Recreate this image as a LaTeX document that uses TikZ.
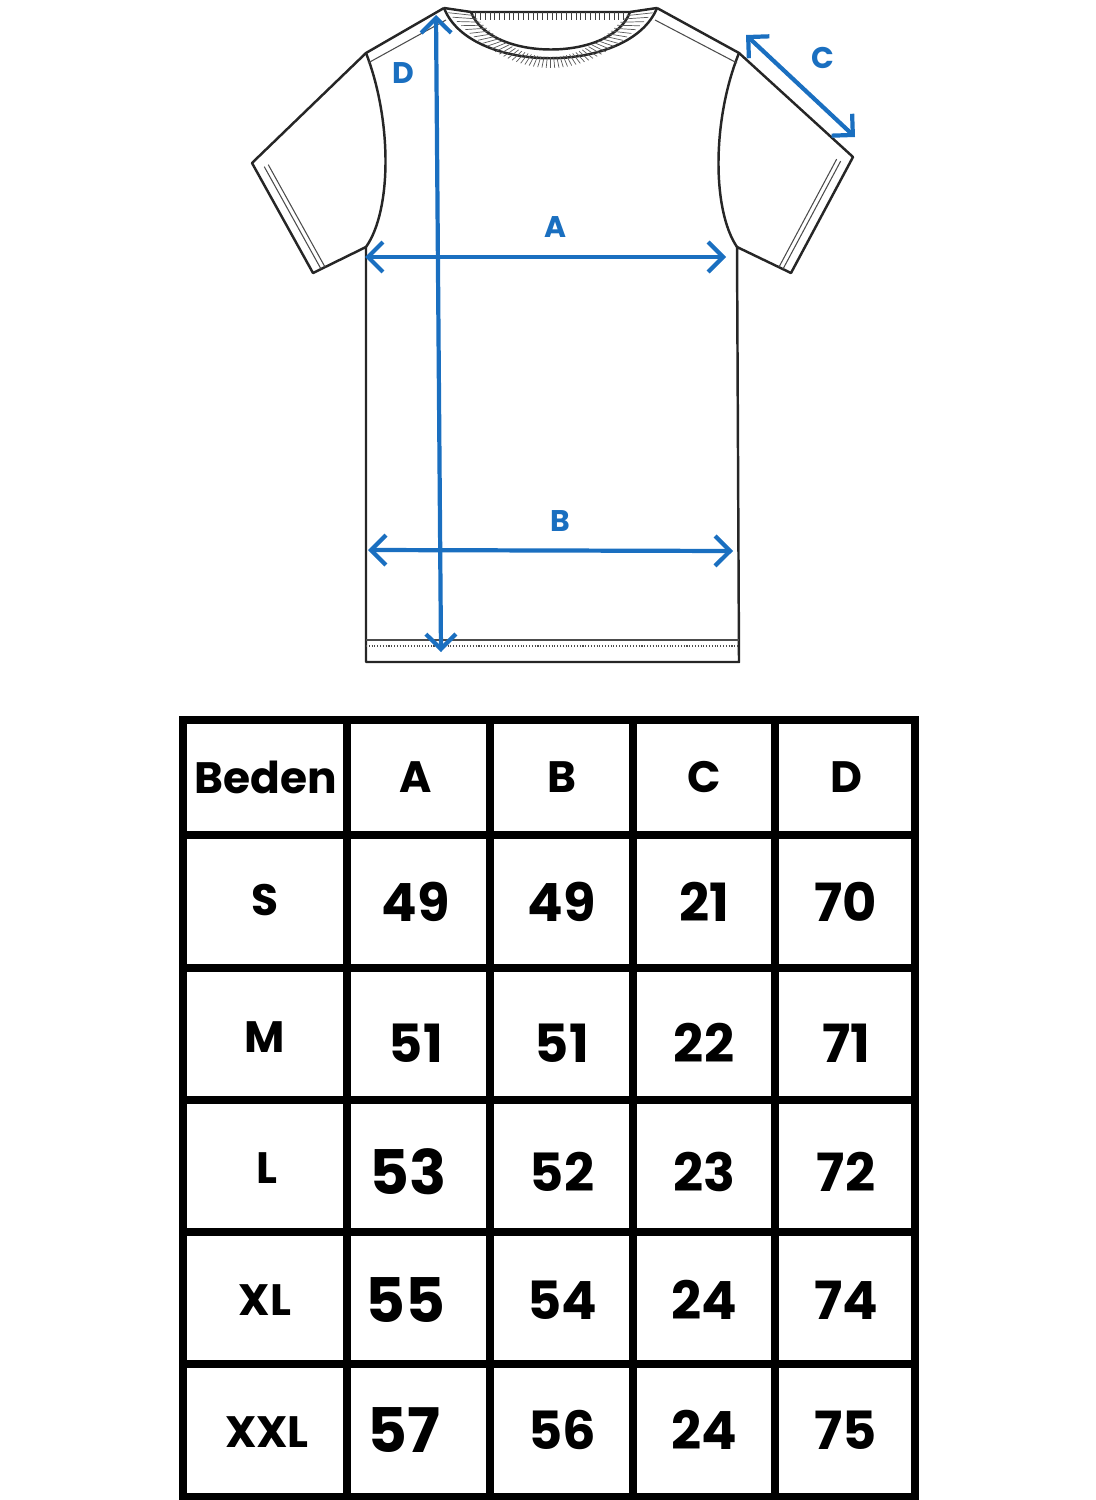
\documentclass[tikz,border=0pt]{standalone}
\usepackage{fontspec}
\setmainfont{Poppins}
\definecolor{measureBlue}{RGB}{26,111,192}
\usetikzlibrary{arrows.meta, calc}

\tikzset{
	outline/.style={line width=1.4pt, black!85, line join=round},
	seam/.style={line width=0.6pt, black!70},
	measure/.style={line width=2.4pt, measureBlue, {Straight Barb[length=3mm,width=6mm]}-{Straight Barb[length=3mm,width=6mm]}},
	mlabel/.style={measureBlue, font=\fontsize{17}{17}\selectfont\bfseries},
	cell/.style={font=\fontsize{30}{30}\selectfont\bfseries},
	bigcell/.style={font=\fontsize{35}{35}\selectfont\bfseries},
	headcell/.style={font=\fontsize{25}{25}\selectfont\bfseries},
	grid/.style={line width=4.2pt, black, line cap=rect}
}

\begin{document}
\begin{tikzpicture}[x=0.02cm, y=-0.02cm]
	\useasboundingbox (0,0) rectangle (1095,1500);

	% shirt points
	\coordinate (NL) at (444,8);
	\coordinate (NR) at (657,8);
	\coordinate (SL) at (366,53);
	\coordinate (SR) at (739,53);
	\coordinate (CL) at (252,163);
	\coordinate (CR) at (853,157);
	\coordinate (KL) at (313,273);
	\coordinate (KR) at (791,273);
	\coordinate (UL) at (366,247);
	\coordinate (UR) at (737,247);
	\coordinate (HL) at (366,662);
	\coordinate (HR) at (739,662);

	% body
	\draw[outline] (NL) -- (SL) -- (CL) -- (KL) -- (UL) -- (HL) -- (HR) -- (UR) -- (KR) -- (CR) -- (SR) -- (NR);
	\draw[outline] (SL) .. controls (392,120) and (392,210) .. (UL);
	\draw[outline] (SR) .. controls (712,120) and (712,210) .. (UR);
	\draw[seam] (368,63) -- (446,20);
	\draw[seam] (737,63) -- (655,20);
	% cuffs
	\draw[seam] ($(CL)!0.07!(KL)+(8,-4)$) -- ($(KL)+(8,-4)$);
	\draw[seam] ($(CL)!0.07!(KL)+(12,-6)$) -- ($(KL)+(12,-6)$);
	\draw[seam] ($(CR)!0.07!(KR)+(-8,-4)$) -- ($(KR)+(-8,-4)$);
	\draw[seam] ($(CR)!0.07!(KR)+(-12,-6)$) -- ($(KR)+(-12,-6)$);
	% hem
	\draw[seam] (366,640) -- (739,640);
	\draw[seam, densely dotted] (366,646) -- (739,646);
	% collar
	\draw[outline] (NL) .. controls (470,75) and (630,75) .. (NR);
	\draw[outline] (NL) -- (471,12) -- (630,12) -- (NR);
	\draw[outline] (471,12) .. controls (490,62) and (612,62) .. (630,12);
	\foreach \t in {0.03,0.06,...,0.98}
		\draw[black!75, line width=0.5pt] ($(471,12)!\t!(630,12)$) -- +(0,8);
	\foreach \t in {0.02,0.04,...,0.99}
		\draw[black!65, line width=0.4pt]
			($(444,8)!\t!(657,8)+(0,{240*\t*(1-\t)})$) -- ($(471,12)!\t!(630,12)+(0,{180*\t*(1-\t)})$);

	% measurements
	\coordinate (Dtop) at (436,15);
	\coordinate (Dbot) at (441,652);
	\coordinate (Ctop) at (746,35);
	\coordinate (Cbot) at (855,137);
	\draw[measure] (Dtop) -- (Dbot);
	\draw[measure] (365,257) coordinate (Aleft) -- (726,257) coordinate (Aright);
	\draw[measure] (368,550) coordinate (Bleft) -- (733,551) coordinate (Bright);
	\draw[measure] (Ctop) -- (Cbot);
	\node[mlabel] (labD) at (403,73) {D};
	\node[mlabel] (labA) at (555,227) {A};
	\node[mlabel] (labB) at (560,521) {B};
	\node[mlabel] (labC) at (823,58) {C};

	% table
	\foreach \x in {183,347,490,633,775,915}
		\draw[grid] (\x,720) -- (\x,1497);
	\foreach \y in {720,835,968,1100,1232,1364,1497}
		\draw[grid] (183,\y) -- (915,\y);

	\node[headcell] (hSize) at (266,777) {Beden};
	\node[headcell] (hA) at (416,777) {A};
	\node[headcell] (hB) at (562,777) {B};
	\node[headcell] (hC) at (704,777) {C};
	\node[headcell] (hD) at (846,777) {D};

	\node[headcell] (sS) at (265,900) {S};
	\node[headcell] (sM) at (265,1037) {M};
	\node[headcell] (sL) at (267,1168) {L};
	\node[headcell] (sXL) at (265,1300) {XL};
	\node[headcell] (sXXL) at (267,1432) {XXL};

	\node[cell] (aS) at (416,902) {49};
	\node[cell] (aM) at (416,1043) {51};
	\node[bigcell] (aL) at (408,1172) {53};
	\node[bigcell] (aXL) at (405,1300) {55};
	\node[bigcell] (aXXL) at (404,1430) {57};

	\node[cell] (bS) at (562,902) {49};
	\node[cell] (bM) at (562,1043) {51};
	\node[cell] (bL) at (562,1172) {52};
	\node[cell] (bXL) at (562,1300) {54};
	\node[cell] (bXXL) at (562,1430) {56};

	\node[cell] (cS) at (704,902) {21};
	\node[cell] (cM) at (704,1043) {22};
	\node[cell] (cL) at (704,1172) {23};
	\node[cell] (cXL) at (704,1300) {24};
	\node[cell] (cXXL) at (704,1430) {24};

	\node[cell] (dS) at (846,902) {70};
	\node[cell] (dM) at (846,1043) {71};
	\node[cell] (dL) at (846,1172) {72};
	\node[cell] (dXL) at (846,1300) {74};
	\node[cell] (dXXL) at (846,1430) {75};
\end{tikzpicture}
\end{document}
